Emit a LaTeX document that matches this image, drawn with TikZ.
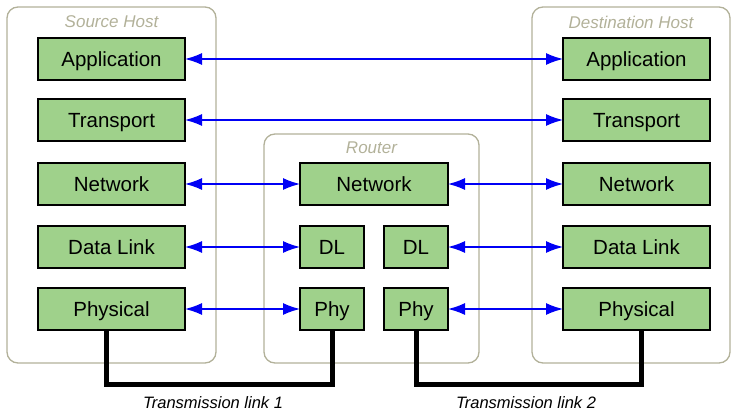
\documentclass[tikz,border=0pt]{standalone}
\usepackage{fontspec}
\setmainfont{Liberation Sans}
\usetikzlibrary{calc,arrows.meta}

\definecolor{layergreen}{RGB}{159,209,139}
\definecolor{hostgray}{RGB}{178,177,153}
\definecolor{linkblue}{RGB}{0,0,245}

\begin{document}
\begin{tikzpicture}[x=1pt, y=-1pt, inner sep=0pt, outer sep=0pt,
    host/.style={draw=hostgray, line width=1.3pt, rounded corners=11pt, anchor=north west},
    hostname/.style={text=hostgray, font=\fontsize{17}{20}\selectfont\itshape},
    layer/.style={draw, fill=layergreen, line width=1.3pt, anchor=north west,
        minimum height=42pt, text height=14.7pt, text depth=0pt,
        font=\fontsize{20.5}{24}\selectfont},
    wide/.style={layer, minimum width=147pt},
    narrow/.style={layer, minimum width=64pt},
    link/.style={linkblue, line width=1.4pt, {Latex[length=17pt,width=12pt]}-{Latex[length=17pt,width=12pt]}},
    wire/.style={line width=5pt},
    linkname/.style={font=\fontsize{16.5}{20}\selectfont\itshape}]

    \useasboundingbox (0,0) rectangle (738,412);

    % hosts
    \node[host, minimum width=209pt, minimum height=356pt] (src) at (7, 7) {};
    \node[hostname] (src_cap) at ($(src.north) + (0, 15)$) {Source Host};

    \node[host, minimum width=215pt, minimum height=229pt] (rtr) at (264, 134) {};
    \node[hostname] (rtr_cap) at ($(rtr.north) + (0, 14)$) {Router};

    \node[host, minimum width=198pt, minimum height=356pt] (dst) at (532, 7) {};
    \node[hostname] (dst_cap) at ($(dst.north) + (0, 15)$) {Destination Host};

    % source stack
    \node[wide] (s_app) at (38, 38)  {Application};
    \node[wide] (s_tra) at (38, 99)  {Transport};
    \node[wide] (s_net) at (38, 163) {Network};
    \node[wide] (s_dl)  at (38, 226) {Data Link};
    \node[wide] (s_phy) at (38, 288) {Physical};

    % router stack
    \node[layer, minimum width=148pt] (r_net) at (300, 163) {Network};
    \node[narrow] (r_dl1)  at (300, 226) {DL};
    \node[narrow] (r_dl2)  at (384, 226) {DL};
    \node[narrow] (r_phy1) at (300, 288) {Phy};
    \node[narrow] (r_phy2) at (384, 288) {Phy};

    % destination stack
    \node[wide] (d_app) at (563, 38)  {Application};
    \node[wide] (d_tra) at (563, 99)  {Transport};
    \node[wide] (d_net) at (563, 163) {Network};
    \node[wide] (d_dl)  at (563, 226) {Data Link};
    \node[wide] (d_phy) at (563, 288) {Physical};

    % peer links
    \draw[link] (s_app.east) -- (d_app.west);
    \draw[link] (s_tra.east) -- (d_tra.west);
    \draw[link] (s_net.east) -- (r_net.west);
    \draw[link] (r_net.east) -- (d_net.west);
    \draw[link] (s_dl.east)  -- (r_dl1.west);
    \draw[link] (r_dl2.east) -- (d_dl.west);
    \draw[link] (s_phy.east) -- (r_phy1.west);
    \draw[link] (r_phy2.east) -- (d_phy.west);

    % transmission links
    \draw[wire] ($(s_phy.south) + (-5, 0)$) -- ++(0, 54.5) -| (r_phy1.south);
    \draw[wire] (r_phy2.south) -- ++(0, 54.5) -| ($(d_phy.south) + (5, 0)$);

    \node[linkname] (link1) at (213, 403) {Transmission link 1};
    \node[linkname] (link2) at (526, 403) {Transmission link 2};

\end{tikzpicture}
\end{document}
